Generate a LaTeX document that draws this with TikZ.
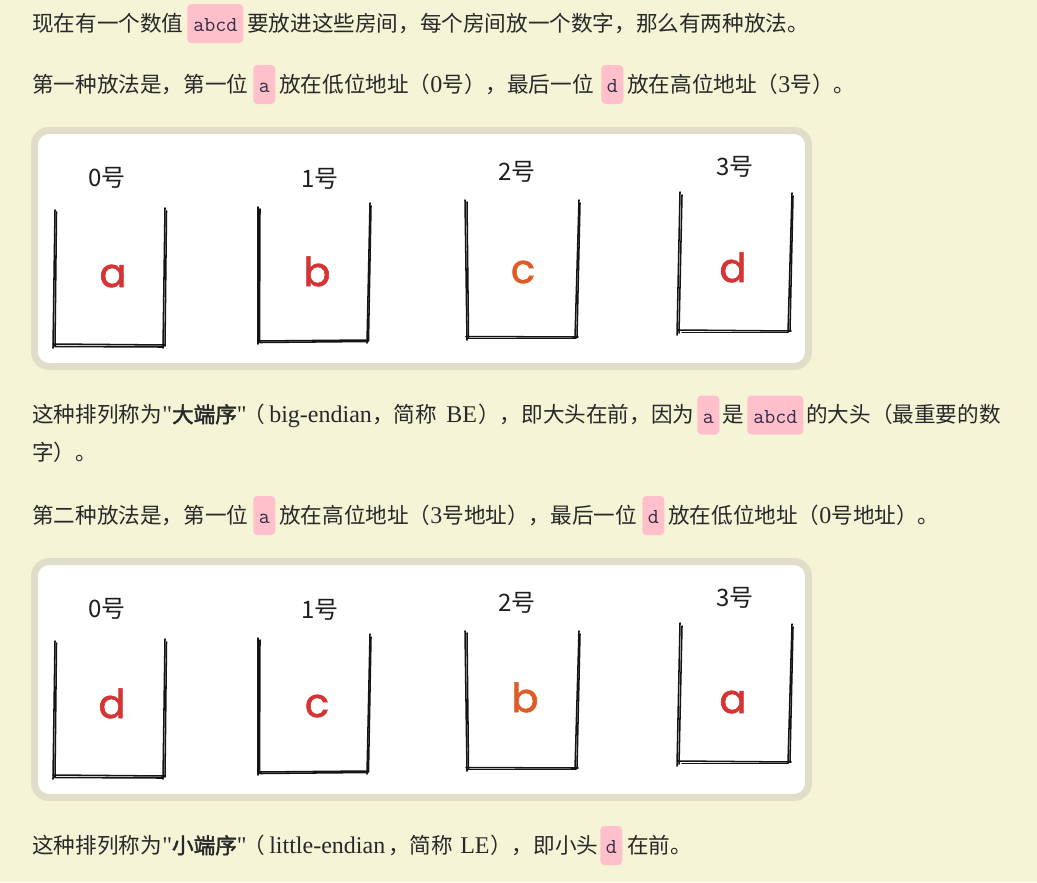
\documentclass[tikz,border=0pt]{standalone}
\usepackage{fontspec}
\setmainfont{Liberation Serif}[Ligatures=TeXOff]
\newfontfamily\cjkfont{Noto Sans CJK SC}
\newfontfamily\cjkbfont{Noto Sans CJK SC}[FakeBold=2]
\newfontfamily\handfont{Poppins}[FakeBold=1.5]
\newcommand\zh[1]{{\fontsize{16.2pt}{20pt}\cjkfont #1}}
\newcommand\zhb[1]{{\fontsize{16.2pt}{20pt}\cjkbfont #1}}
\newcommand\la[1]{{\fontsize{18pt}{22pt}\rmfamily #1}}
\definecolor{bgc}{RGB}{245,244,214}
\definecolor{framec}{RGB}{224,222,200}
\definecolor{hlpink}{RGB}{255,192,203}
\definecolor{textc}{RGB}{40,40,40}
\definecolor{codec}{RGB}{50,45,70}
\definecolor{lblc}{RGB}{30,30,30}
\definecolor{redl}{RGB}{212,52,52}
\definecolor{orgl}{RGB}{222,92,38}
\tikzset{
 txt/.style={anchor=base west, inner sep=0pt, text=textc},
 hl/.style={fill=hlpink, rounded corners=3pt, inner xsep=0pt, inner ysep=0pt,
   minimum height=29.25pt, text height=13pt, text depth=1pt, text=codec,
   font=\ttfamily\fontsize{16pt}{18pt}\selectfont, anchor=west},
 hlone/.style={hl, minimum width=16.5pt},
 hlfour/.style={hl, minimum width=42pt},
 framebox/.style={draw=framec, line width=5.25pt, fill=white, rounded corners=11pt},
 cupline/.style={line width=1.15pt, draw=black!92, line cap=round},
 lbl/.style={font=\cjkfont\fontsize{18pt}{21pt}\selectfont, text=lblc, inner sep=0pt},
 hand/.style={font=\handfont\fontsize{30pt}{34pt}\selectfont, inner sep=0pt, anchor=base},
}
\newcommand\drawcups{%
 % cup 0
 \draw[cupline] (55,210) -- (53,348);
 \draw[cupline] (56.5,212) -- (55,346);
 \draw[cupline] (165,208) -- (163,348);
 \draw[cupline] (166.5,211) -- (165,346);
 \draw[cupline] (53,344) -- (165,345);
 \draw[cupline] (55,346.5) -- (163,347);
 % cup 1
 \draw[cupline] (258,207) -- (258,344);
 \draw[cupline] (260,209) -- (259.5,342);
 \draw[cupline] (370,203) -- (367,343);
 \draw[cupline] (371,206) -- (368.5,341);
 \draw[cupline] (258,341) -- (368,340);
 \draw[cupline] (260,342.5) -- (366,341.5);
 % cup 2
 \draw[cupline] (465,200) -- (467,340);
 \draw[cupline] (467,202) -- (468.5,338);
 \draw[cupline] (579,200) -- (575,338);
 \draw[cupline] (580,203) -- (577,336);
 \draw[cupline] (466,336.5) -- (578,337);
 \draw[cupline] (468,338.5) -- (576,338.5);
 % cup 3
 \draw[cupline] (680,192) -- (677,335);
 \draw[cupline] (682,195) -- (679,333);
 \draw[cupline] (792,193) -- (788,332);
 \draw[cupline] (793,196) -- (790,330);
 \draw[cupline] (678,330) -- (791,331);
 \draw[cupline] (682,332.5) -- (788,332.5);
}
\begin{document}
\begin{tikzpicture}[x=0.75pt,y=-0.75pt]
\useasboundingbox (0,0) rectangle (1037,882);
\fill[bgc] (0,0) rectangle (1037,882);

% ---------- line 1
\node[txt] (n11) at (32,31.5) {\zh{现在有一个数值}};
\node[hlfour] (b11) at (187,23.5) {abcd};
\node[txt] (n12) at (247,31.5) {\zh{要放进这些房间，每个房间放一个数字，那么有两种放法。}};

% ---------- line 2
\node[txt] (n21) at (32,92.5) {\zh{第一种放法是，第一位}};
\node[hlone] (b21) at (253,84.5) {a};
\node[txt] (n22) at (279,92.5) {\zh{放在低位地址（}\la{0}\zh{号），最后一位}};
\node[hlone] (b22) at (601,84.5) {d};
\node[txt] (n23) at (627,92.5) {\zh{放在高位地址（}\la{3}\zh{号）。}};

% ---------- figure 1
\draw[framebox] (34.5,130.5) rectangle (808.5,366.5);
\drawcups
\node[lbl] (f1l0) at (107,178) {0号};
\node[lbl] (f1l1) at (320,179) {1号};
\node[lbl] (f1l2) at (517,172) {2号};
\node[lbl] (f1l3) at (735,167) {3号};
\node[hand, text=redl] (f1a) at (113,287) {a};
\node[hand, text=redl] (f1b) at (317,286) {b};
\node[hand, text=orgl] (f1c) at (523,283) {c};
\node[hand, text=redl] (f1d) at (733,282) {d};

% ---------- line 3
\node[txt] (n31) at (32,422.5) {\zh{这种排列称为}};
\node[txt] (n32) at (162,422.5) {\la{"}\zhb{大端序}\la{"}};
\node[txt] (n33) at (243,422.5) {\zh{（}};
\node[txt] (n34) at (269,422.5) {\la{big-endian}};
\node[txt] (n35) at (372,422.5) {\zh{，简称}};
\node[txt] (n36) at (446,422.5) {\la{BE}};
\node[txt] (n37) at (478,422.5) {\zh{），即大头在前，因为}};
\node[hlone] (b31) at (697,415) {a};
\node[txt] (n38) at (722,422.5) {\zh{是}};
\node[hlfour] (b32) at (747,415) {abcd};
\node[txt] (n39) at (806,422.5) {\zh{的大头（最重要的数}};

% ---------- line 4
\node[txt] (n41) at (32,460.5) {\zh{字）。}};

% ---------- line 5
\node[txt] (n51) at (32,523.5) {\zh{第二种放法是，第一位}};
\node[hlone] (b51) at (253,515.5) {a};
\node[txt] (n52) at (279,523.5) {\zh{放在高位地址（}\la{3}\zh{号地址），最后一位}};
\node[hlone] (b52) at (642,515.5) {d};
\node[txt] (n53) at (668,523.5) {\zh{放在低位地址（}\la{0}\zh{号地址）。}};

% ---------- figure 2
\begin{scope}[shift={(0,431)}]
\draw[framebox] (34.5,130.5) rectangle (808.5,366.5);
\drawcups
\node[lbl] (f2l0) at (107,178) {0号};
\node[lbl] (f2l1) at (320,179) {1号};
\node[lbl] (f2l2) at (517,172) {2号};
\node[lbl] (f2l3) at (735,167) {3号};
\node[hand, text=redl] (f2d) at (112,287) {d};
\node[hand, text=redl] (f2c) at (317,286) {c};
\node[hand, text=orgl] (f2b) at (525,281) {b};
\node[hand, text=redl] (f2a) at (733,282) {a};
\end{scope}

% ---------- line 6
\node[txt] (n61) at (32,853.5) {\zh{这种排列称为}};
\node[txt] (n62) at (162,853.5) {\la{"}\zhb{小端序}\la{"}};
\node[txt] (n63) at (243,853.5) {\zh{（}};
\node[txt] (n64) at (269,853.5) {\la{little-endian}};
\node[txt] (n65) at (388,853.5) {\zh{，简称}};
\node[txt] (n66) at (460,853.5) {\la{LE}};
\node[txt] (n67) at (490,853.5) {\zh{），即小头}};
\node[hlone] (b61) at (600,845.5) {d};
\node[txt] (n68) at (627,853.5) {\zh{在前。}};
\end{tikzpicture}
\end{document}
